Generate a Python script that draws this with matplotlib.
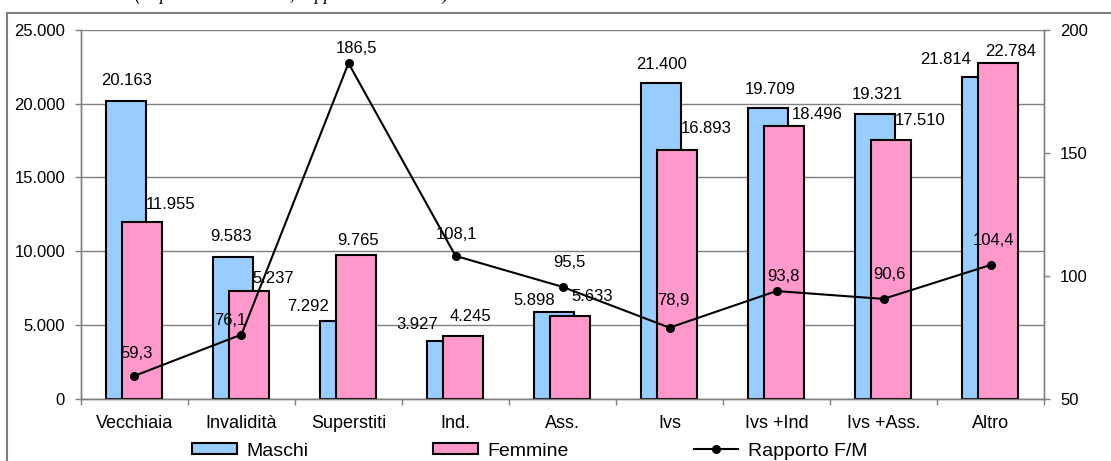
import numpy as np
import matplotlib
matplotlib.use('Agg')
import matplotlib.pyplot as plt
from matplotlib.lines import Line2D
from matplotlib.ticker import FuncFormatter, FixedLocator

plt.rcParams['font.family'] = ['Liberation Sans', 'DejaVu Sans']

# dati
categorie = ['Vecchiaia', 'Invalidità', 'Superstiti', 'Ind.', 'Ass.',
             'Ivs', 'Ivs +Ind', 'Ivs +Ass.', 'Altro']
maschi = [20163, 9583, 5237, 3927, 5898, 21400, 19709, 19321, 21814]
femmine = [11955, 7292, 9765, 4245, 5633, 16893, 18496, 17510, 22784]
rapporto = [59.3, 76.1, 186.5, 108.1, 95.5, 78.9, 93.8, 90.6, 104.4]

# etichette come appaiono nel grafico
etich_maschi = ['20.163', '9.583', '7.292', '3.927', '5.898', '21.400', '19.709', '19.321', '21.814']
etich_femmine = ['11.955', '5.237', '9.765', '4.245', '5.633', '16.893', '18.496', '17.510', '22.784']

# spostamenti delle etichette (pixel)
off_maschi = [(-8, 21), (-10, 21), (-40, 15), (-38, 16), (-28, 11),
              (-8, 19), (-6, 19), (-6, 19), (-45, 17)]
off_femmine = [(36, 18), (32, 13), (10, 14), (15, 20), (30, 19),
               (37, 21), (41, 11), (37, 20), (20, 11)]
off_rapporto = [(2, 22), (-11, 14), (8, 15), (1, 21), (7, 24),
                (4, 27), (7, 15), (6, 24), (3, 24)]

blu = '#99CCFF'
rosa = '#FF99CC'
grigio = '#808080'

W, H = 1111, 461
fig = plt.figure(figsize=(W / 100, H / 100), dpi=100)
ax = fig.add_axes([81 / W, 1 - 398.7 / H, (1044 - 81) / W, (398.7 - 30) / H])
ax2 = ax.twinx()

x = np.arange(len(categorie))
larg = 0.374

ax.set_zorder(ax2.get_zorder() - 1)
ax2.patch.set_visible(False)

ax.bar(x - 0.08, maschi, larg, color=blu, edgecolor='black', linewidth=1.5, zorder=2, label='Maschi')
ax.bar(x + 0.068, femmine, larg, color=rosa, edgecolor='black', linewidth=1.5, zorder=3, label='Femmine')

ax.set_ylim(0, 25000)
ax.set_xlim(-0.5, len(categorie) - 0.5)
ax.yaxis.set_major_locator(FixedLocator(np.arange(0, 25001, 5000)))
ax.yaxis.set_major_formatter(FuncFormatter(lambda v, p: f'{int(v):,}'.replace(',', '.')))
ax.grid(axis='y', color=grigio, linewidth=1, zorder=0)
ax.set_axisbelow(True)

ax.set_xticks(x)
ax.set_xticklabels(categorie, fontsize=13)
ax.set_xticks(np.arange(-0.5, len(categorie)), minor=True)
ax.tick_params(axis='x', which='major', length=0, pad=12)
ax.tick_params(axis='x', which='minor', length=4, color=grigio, width=1)
ax.tick_params(axis='y', length=4.5, color=grigio, width=1, labelsize=12, pad=7)

for i in range(len(categorie)):
    ax.annotate(etich_maschi[i], (x[i], maschi[i]), xytext=off_maschi[i],
                textcoords='offset pixels', ha='center', va='center', fontsize=12, zorder=6)
    ax.annotate(etich_femmine[i], (x[i], femmine[i]), xytext=off_femmine[i],
                textcoords='offset pixels', ha='center', va='center', fontsize=12, zorder=6)

ax2.plot(x, rapporto, color='black', linewidth=1.5, marker='o', markersize=5.5,
         zorder=5, label='Rapporto F/M')
ax2.set_ylim(50, 200)
ax2.yaxis.set_major_locator(FixedLocator([50, 100, 150, 200]))
ax2.tick_params(axis='y', length=4.5, color=grigio, width=1, labelsize=12, pad=7)
for i in range(len(categorie)):
    ax2.annotate(f'{rapporto[i]:.1f}'.replace('.', ','), (x[i], rapporto[i]),
                 xytext=off_rapporto[i], textcoords='offset pixels',
                 ha='center', va='center', fontsize=12, zorder=6)

for a in (ax, ax2):
    for s in a.spines.values():
        s.set_color(grigio)
        s.set_linewidth(1)
    a.spines['top'].set_visible(False)

# legenda
h1, l1 = ax.get_legend_handles_labels()
h2, l2 = ax2.get_legend_handles_labels()
fig.legend(h1 + h2, l1 + l2, loc='center', bbox_to_anchor=(530 / W, 1 - 451 / H),
           ncol=3, frameon=False, fontsize=14, handlelength=2.3, handleheight=0.55,
           handletextpad=0.5, columnspacing=6.4, borderpad=0, numpoints=1)

# cornice del grafico e titolo tagliato (come nell'originale)
fig.add_artist(Line2D([7 / W, 7 / W], [0, 1 - 13.5 / H], transform=fig.transFigure,
                      color=grigio, linewidth=1.5))
fig.add_artist(Line2D([7 / W, 1], [1 - 13.5 / H, 1 - 13.5 / H], transform=fig.transFigure,
                      color=grigio, linewidth=1.5))
fig.text(135 / W, 1.0, '(Importi medi in euro, rapporto F/M x 100)', family=['Liberation Serif', 'DejaVu Serif'],
         style='italic', fontsize=13, va='baseline', ha='left')

fig.savefig('out.png', dpi=100)
